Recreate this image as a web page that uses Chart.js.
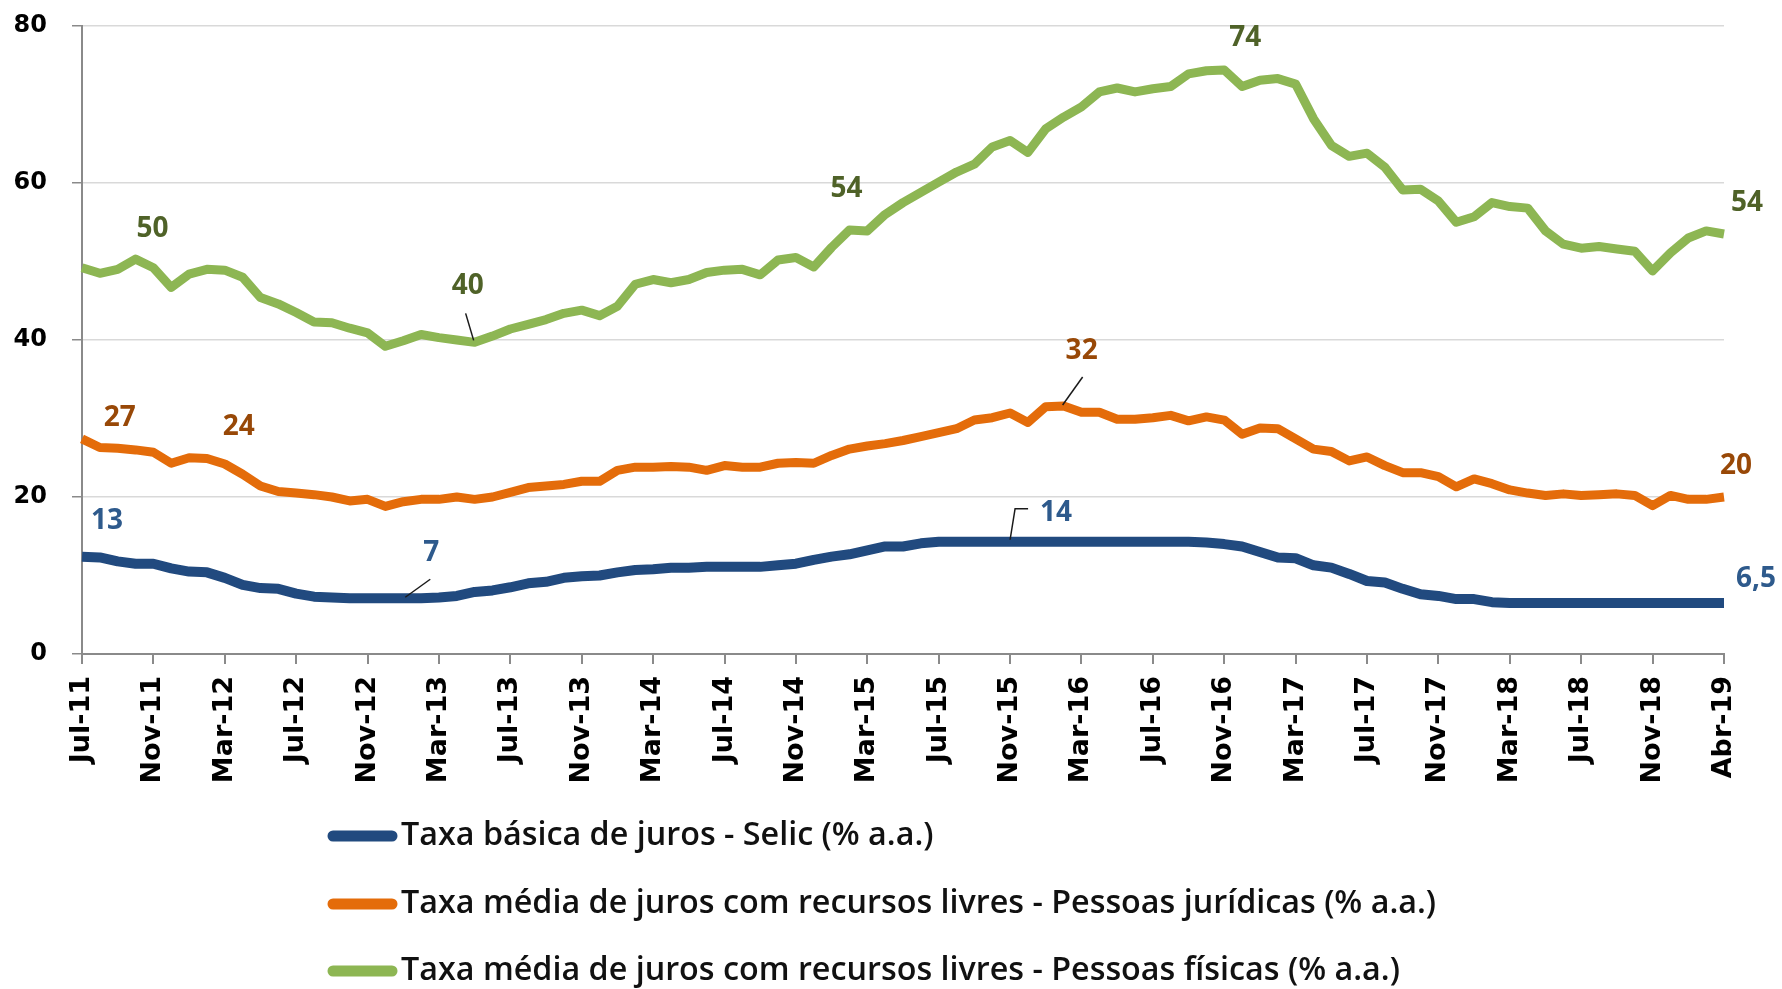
<!DOCTYPE html>
<html>
<head>
<meta charset="utf-8">
<script src="https://cdn.jsdelivr.net/npm/chart.js@4.4.1/dist/chart.umd.min.js"></script>
<style>
  html, body { margin: 0; padding: 0; background: #ffffff; }
  #wrap { width: 1782px; height: 989px; position: relative; }
</style>
</head>
<body>
<div id="wrap"><canvas id="c" width="1782" height="989"></canvas></div>
<script>
// ---------------- DATA ----------------
const categories = [
  'Jul-11','Ago-11','Set-11','Out-11','Nov-11','Dez-11',
  'Jan-12','Fev-12','Mar-12','Abr-12','Mai-12','Jun-12','Jul-12','Ago-12','Set-12','Out-12','Nov-12','Dez-12',
  'Jan-13','Fev-13','Mar-13','Abr-13','Mai-13','Jun-13','Jul-13','Ago-13','Set-13','Out-13','Nov-13','Dez-13',
  'Jan-14','Fev-14','Mar-14','Abr-14','Mai-14','Jun-14','Jul-14','Ago-14','Set-14','Out-14','Nov-14','Dez-14',
  'Jan-15','Fev-15','Mar-15','Abr-15','Mai-15','Jun-15','Jul-15','Ago-15','Set-15','Out-15','Nov-15','Dez-15',
  'Jan-16','Fev-16','Mar-16','Abr-16','Mai-16','Jun-16','Jul-16','Ago-16','Set-16','Out-16','Nov-16','Dez-16',
  'Jan-17','Fev-17','Mar-17','Abr-17','Mai-17','Jun-17','Jul-17','Ago-17','Set-17','Out-17','Nov-17','Dez-17',
  'Jan-18','Fev-18','Mar-18','Abr-18','Mai-18','Jun-18','Jul-18','Ago-18','Set-18','Out-18','Nov-18','Dez-18',
  'Jan-19','Fev-19','Abr-19'
];

const seriesNames = [
  'Taxa básica de juros - Selic (% a.a.)',
  'Taxa média de juros com recursos livres - Pessoas jurídicas (% a.a.)',
  'Taxa média de juros com recursos livres - Pessoas físicas (% a.a.)'
];

const selic = [
  12.4, 12.3, 11.8, 11.5, 11.5, 10.9, 10.5, 10.4, 9.7, 8.8,
  8.4, 8.3, 7.7, 7.3, 7.2, 7.1, 7.1, 7.1, 7.1, 7.1,
  7.2, 7.4, 7.9, 8.1, 8.5, 9.0, 9.2, 9.7, 9.9, 10.0,
  10.4, 10.7, 10.8, 11.0, 11.0, 11.1, 11.1, 11.1, 11.1, 11.3,
  11.5, 12.0, 12.4, 12.7, 13.2, 13.7, 13.7, 14.1, 14.3, 14.3,
  14.3, 14.3, 14.3, 14.3, 14.3, 14.3, 14.3, 14.3, 14.3, 14.3,
  14.3, 14.3, 14.3, 14.2, 14.0, 13.7, 13.0, 12.3, 12.2, 11.3,
  11.0, 10.2, 9.3, 9.1, 8.3, 7.6, 7.4, 7.0, 7.0, 6.6,
  6.5, 6.5, 6.5, 6.5, 6.5, 6.5, 6.5, 6.5, 6.5, 6.5, 6.5, 6.5, 6.5
];

const pessoasJuridicas = [
  27.4, 26.3, 26.2, 26.0, 25.7, 24.3, 25.0, 24.9, 24.2, 22.9,
  21.4, 20.7, 20.5, 20.3, 20.0, 19.5, 19.7, 18.8, 19.4, 19.7,
  19.7, 20.0, 19.7, 20.0, 20.6, 21.2, 21.4, 21.6, 22.0, 22.0,
  23.4, 23.8, 23.8, 23.9, 23.8, 23.4, 24.0, 23.8, 23.8, 24.3,
  24.4, 24.3, 25.3, 26.1, 26.5, 26.8, 27.2, 27.7, 28.2, 28.7,
  29.8, 30.1, 30.7, 29.5, 31.5, 31.6, 30.8, 30.8, 29.9, 29.9,
  30.1, 30.4, 29.7, 30.2, 29.8, 28.0, 28.8, 28.7, 27.4, 26.1,
  25.8, 24.6, 25.1, 24.0, 23.1, 23.1, 22.6, 21.3, 22.3, 21.7,
  20.9, 20.5, 20.2, 20.4, 20.2, 20.3, 20.4, 20.2, 18.9, 20.2, 19.7, 19.7, 20.0
];

const pessoasFisicas = [
  49.2, 48.5, 49.0, 50.3, 49.2, 46.7, 48.4, 49.0, 48.9, 48.0,
  45.4, 44.6, 43.5, 42.3, 42.2, 41.5, 40.9, 39.2, 39.9, 40.7,
  40.3, 40.0, 39.7, 40.5, 41.4, 42.0, 42.6, 43.4, 43.8, 43.1,
  44.3, 47.1, 47.7, 47.3, 47.7, 48.6, 48.9, 49.0, 48.3, 50.2,
  50.5, 49.3, 51.8, 54.0, 53.9, 56.0, 57.5, 58.8, 60.1, 61.4,
  62.4, 64.6, 65.4, 63.9, 66.9, 68.4, 69.7, 71.6, 72.1, 71.6,
  72.0, 72.3, 73.9, 74.3, 74.4, 72.3, 73.1, 73.3, 72.6, 68.2,
  64.8, 63.4, 63.8, 62.0, 59.1, 59.2, 57.7, 55.0, 55.7, 57.5,
  57.0, 56.8, 53.9, 52.2, 51.7, 51.9, 51.6, 51.3, 48.8, 51.1, 53.0, 53.9, 53.5
];

const yTickValues = [0, 20, 40, 60, 80];

// value labels written on the chart: [series, point index, text]
const valueLabels = [
  [2, 3, '50'], [2, 22, '40'], [2, 43, '54'], [2, 64, '74'], [2, 92, '54'],
  [1, 2, '27'], [1, 8, '24'], [1, 55, '32'], [1, 92, '20'],
  [0, 0, '13'], [0, 18, '7'], [0, 52, '14'], [0, 92, '6,5']
];

// ---------------- STYLE ----------------
const lineColors = ['#214A7F', '#E46C0A', '#8DB653'];
const lineWidths = [10, 9, 9];
const labelColors = ['#2E5A8C', '#984807', '#4F6228'];
// offsets (px) of each value label from its point, same order as valueLabels
const labelOffsets = [
  [17, -30], [-7, -56], [-3, -41], [21, -32], [23, -31],
  [2, -30], [14, -37], [18, -55], [12, -31],
  [25, -36], [28, -45], [46, -29], [32, -24]
];
// leader lines (offsets from point) keyed by label position in valueLabels
const leaderLines = {
  1: [[-9, -29], [-1, -2]],
  7: [[19, -29], [-1, -1]],
  10: [[27, -19], [2, -1]],
  11: [[18, -33], [5, -33], [0, -2]]
};
const legendRowsY = [836, 904, 971];

const valueLabelPlugin = {
  id: 'valueLabels',
  afterDatasetsDraw(chart) {
    const ctx = chart.ctx;
    ctx.save();
    valueLabels.forEach((lab, k) => {
      const [s, idx, text] = lab;
      const pt = chart.getDatasetMeta(s).data[idx];
      const lines = leaderLines[k];
      if (lines) {
        ctx.beginPath();
        ctx.strokeStyle = '#1a1a1a';
        ctx.lineWidth = 1.5;
        lines.forEach((o, j) => {
          const px = pt.x + o[0], py = pt.y + o[1];
          if (j === 0) ctx.moveTo(px, py); else ctx.lineTo(px, py);
        });
        ctx.stroke();
      }
      ctx.fillStyle = labelColors[s];
      ctx.font = 'bold 28px "Open Sans"';
      ctx.textAlign = 'center';
      ctx.textBaseline = 'middle';
      ctx.fillText(text, pt.x + labelOffsets[k][0], pt.y + labelOffsets[k][1]);
    });
    ctx.restore();
  }
};

const legendPlugin = {
  id: 'customLegend',
  afterDraw(chart) {
    const ctx = chart.ctx;
    ctx.save();
    seriesNames.forEach((name, i) => {
      const y = legendRowsY[i];
      ctx.beginPath();
      ctx.strokeStyle = lineColors[i];
      ctx.lineWidth = 11;
      ctx.lineCap = 'round';
      ctx.moveTo(333, y);
      ctx.lineTo(392, y);
      ctx.stroke();
      ctx.fillStyle = '#111111';
      ctx.font = '600 32.3px "Open Sans"';
      ctx.textAlign = 'left';
      ctx.textBaseline = 'middle';
      ctx.fillText(name, 401, y);
    });
    ctx.restore();
  }
};

const series = [selic, pessoasJuridicas, pessoasFisicas];

new Chart(document.getElementById('c'), {
  type: 'line',
  data: {
    labels: categories,
    datasets: series.map((d, i) => ({
      label: seriesNames[i],
      data: d,
      borderColor: lineColors[i],
      backgroundColor: lineColors[i],
      borderWidth: lineWidths[i],
      pointRadius: 0,
      tension: 0,
      borderJoinStyle: 'round',
      borderCapStyle: 'butt',
      fill: false
    }))
  },
  options: {
    responsive: false,
    animation: false,
    layout: { padding: { left: 0, right: 58, top: 26, bottom: 0 } },
    plugins: { legend: { display: false }, tooltip: { enabled: false } },
    scales: {
      x: {
        offset: false,
        grid: { drawOnChartArea: false, drawTicks: true, tickLength: 10, tickColor: '#8a8a8a', lineWidth: 2 },
        border: { color: '#8a8a8a', width: 2 },
        ticks: {
          autoSkip: false, maxRotation: 90, minRotation: 90, padding: 12,
          color: '#000000',
          font: { family: 'DejaVu Sans', weight: 'bold', size: 27 },
          callback: (v, i) => (i % 4 === 0 ? categories[i] : null)
        },
        afterFit: (s) => { s.height = 989 - 654; }
      },
      y: {
        min: 0, max: 80,
        afterBuildTicks: (s) => { s.ticks = yTickValues.map(v => ({ value: v })); },
        grid: { color: '#D9D9D9', lineWidth: 1.5, tickLength: 10, tickColor: '#8a8a8a' },
        border: { color: '#8a8a8a', width: 2 },
        ticks: {
          padding: 25, color: '#000000',
          font: { family: 'DejaVu Sans', weight: 'bold', size: 24 }
        },
        afterFit: (s) => { s.width = 82; s.paddingTop = 0; s.paddingBottom = 0; }
      }
    }
  },
  plugins: [valueLabelPlugin, legendPlugin]
});
</script>
</body>
</html>
